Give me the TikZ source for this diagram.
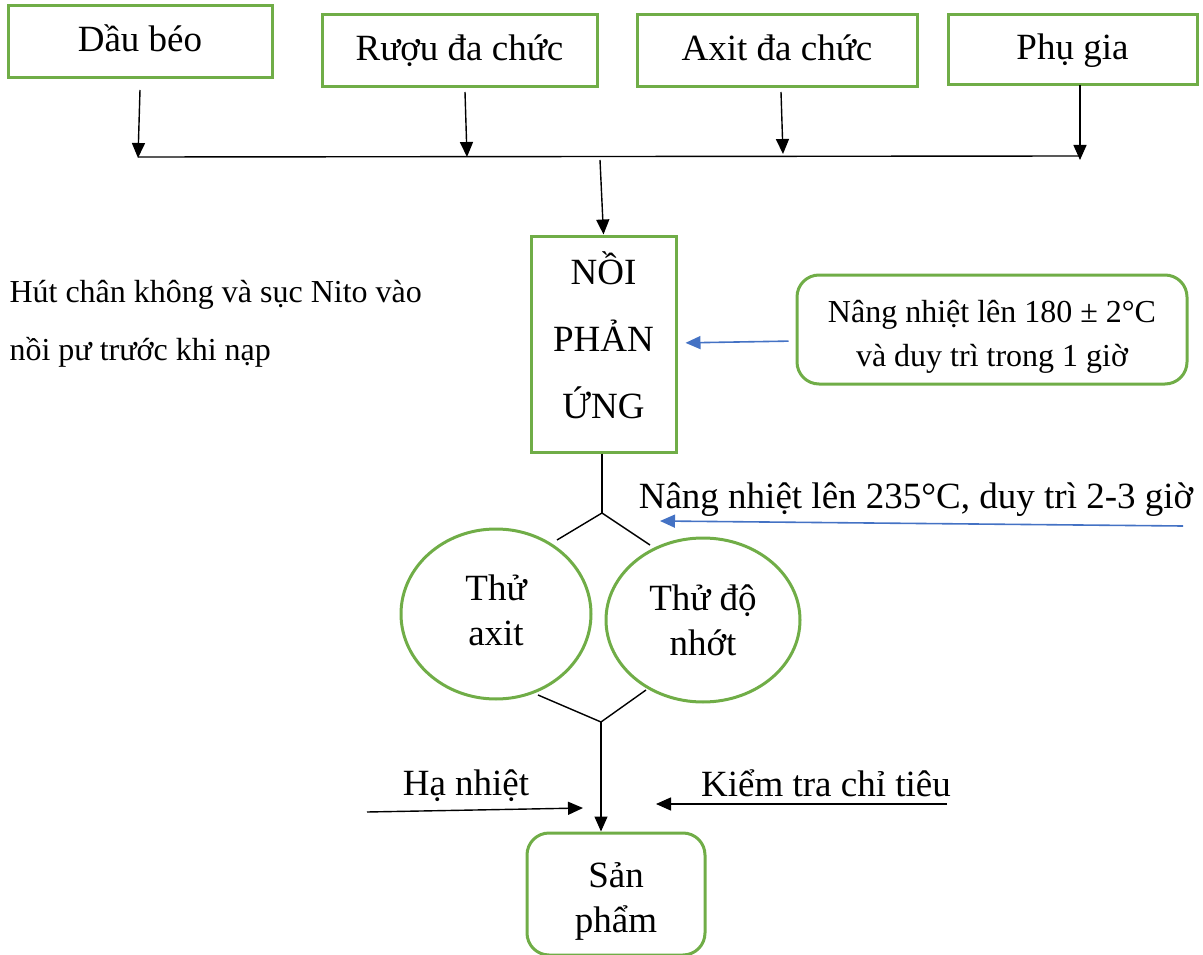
\documentclass[tikz,border=0pt]{standalone}
\usepackage{fontspec}
\setmainfont{Liberation Serif}
\usetikzlibrary{arrows.meta,shapes.geometric}
\definecolor{grn}{HTML}{70AD47}
\definecolor{blu}{HTML}{4472C4}

\begin{document}
\begin{tikzpicture}[x=1pt,y=-1pt,
  big/.style={font=\fontsize{37}{45}\selectfont},
  small/.style={font=\fontsize{32}{44}\selectfont},
  gbox/.style={draw=grn, line width=3pt, inner sep=0pt, align=center, big},
  oneline/.style={text height=28pt, text depth=8pt},
  grnd/.style={gbox, rounded corners=22pt},
  goval/.style={draw=grn, line width=3pt, ellipse, inner sep=0pt, align=center, big},
  link/.style={draw=black, line width=1.4pt},
  arr/.style={link, -{Triangle[length=15pt,width=13pt]}},
  barr/.style={draw=blu, line width=1.6pt, -{Triangle[length=15pt,width=13pt]}},
]
\useasboundingbox (0,0) rectangle (1203,955);

% raw materials
\node[gbox, oneline, minimum width=264pt, minimum height=72pt] (dau) at (140,42) {Dầu béo};
\node[gbox, oneline, minimum width=275pt, minimum height=72pt] (ruou) at (459.5,51) {Rượu đa chức};
\node[gbox, oneline, minimum width=280pt, minimum height=72pt] (axit) at (777,51) {Axit đa chức};
\node[gbox, oneline, minimum width=249pt, minimum height=70pt] (phu) at (1072.5,50) {Phụ gia};

% feed arrows onto the collector line
\coordinate (fa) at (140,90);   \coordinate (ta) at (138,158);
\coordinate (fb) at (465,92);   \coordinate (tb) at (467,157);
\coordinate (fc) at (781,92);   \coordinate (tc) at (783,154);
\coordinate (fd) at (1080,85);  \coordinate (td) at (1080,160);
\draw[arr] (fa) -- (ta);
\draw[arr] (fb) -- (tb);
\draw[arr] (fc) -- (tc);
\draw[arr] (fd) -- (td);
\coordinate (busl) at (138,157);
\coordinate (busr) at (1080,156);
\draw[link] (busl) -- (busr);

% reactor
\node[gbox, minimum width=145pt, minimum height=216pt, text height=148pt, text depth=0pt,
      font=\fontsize{37}{67}\selectfont] (noi) at (603.5,344) {NỒI\\PHẢN\\ỨNG};
\coordinate (fm) at (600,160);
\draw[arr] (fm) -- (noi.north);

% side notes of the reactor
\node[font=\fontsize{32}{58}\selectfont, align=left, anchor=west] (hut) at (6,324)
  {Hút chân không và sục Nito vào\\nồi pư trước khi nạp};
\node[grnd, minimum width=390pt, minimum height=109pt, text height=74pt, text depth=0pt,
      font=\fontsize{32}{44}\selectfont] (heat1) at (992,329.5)
  {Nâng nhiệt lên 180 ± 2°C\\và duy trì trong 1 giờ};
\draw[barr, shorten <=7pt, shorten >=8pt] (heat1.west |- 0,341) -- (noi.east |- 0,343);

% split towards the two tests
\coordinate (j1) at (602,513);
\coordinate (j1l) at (557,540);
\coordinate (j1r) at (650,545);
\draw[link] (noi.south -| j1) -- (j1);
\draw[link] (j1l) -- (j1) -- (j1r);

\node[big, anchor=center] (heat2) at (916,500) {Nâng nhiệt lên 235°C, duy trì 2-3 giờ};
\coordinate (h2s) at (1183,526);
\coordinate (h2e) at (660,521);
\draw[barr] (h2s) -- (h2e);

% tests
\node[goval, minimum width=190pt, minimum height=170pt, text height=62pt, text depth=0pt]
  (tax) at (496,614) {Thử\\axit};
\node[goval, minimum width=194pt, minimum height=164pt, text height=70pt, text depth=0pt]
  (tnh) at (703,620) {Thử độ\\nhớt};

% merge towards the product
\coordinate (j2) at (601,722);
\coordinate (j2l) at (538,695);
\coordinate (j2r) at (646,690);
\draw[link] (j2l) -- (j2) -- (j2r);

\node[grnd, minimum width=178pt, minimum height=122pt, text height=76pt, text depth=0pt]
  (san) at (616,894) {Sản\\phẩm};
\draw[arr] (j2) -- (j2 |- san.north);

% cooling and quality check
\node[big] (ha) at (466,786) {Hạ nhiệt};
\coordinate (has) at (367,812);
\coordinate (hae) at (583,808);
\draw[arr] (has) -- (hae);

\node[big] (kt) at (826,783) {Kiểm tra chỉ tiêu};
\coordinate (kts) at (947,804);
\coordinate (kte) at (656,804);
\draw[arr] (kts) -- (kte);
\end{tikzpicture}
\end{document}
